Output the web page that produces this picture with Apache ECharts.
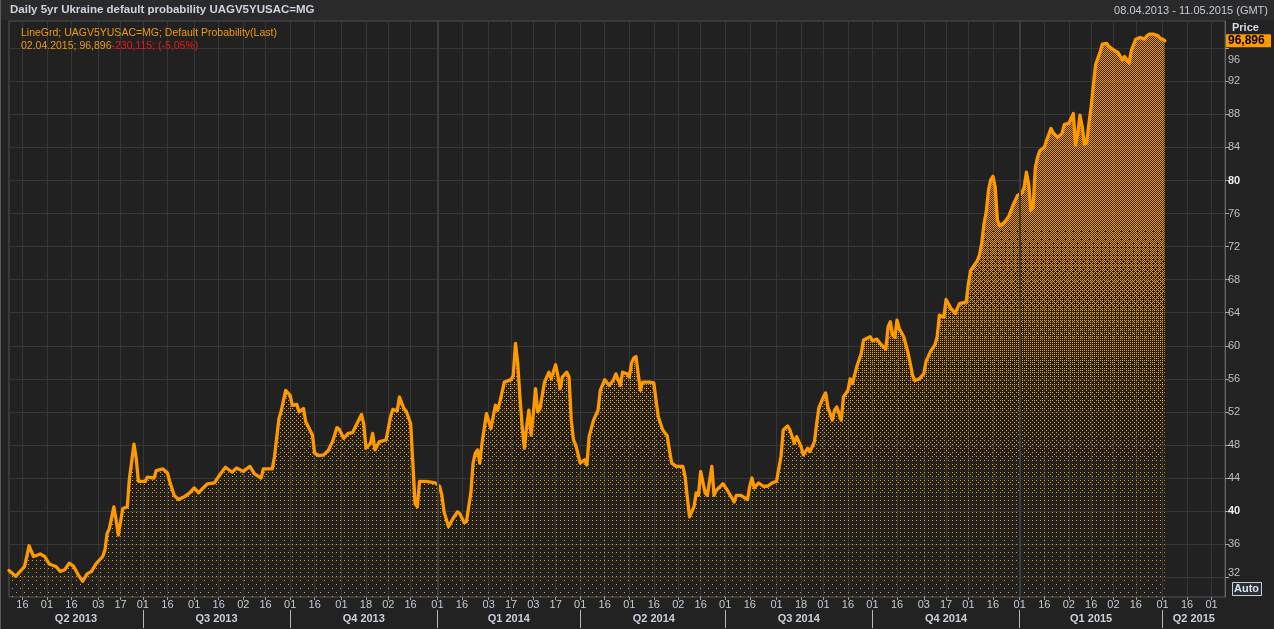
<!DOCTYPE html>
<html><head><meta charset="utf-8">
<script src="https://cdn.jsdelivr.net/npm/echarts@6/dist/echarts.min.js"></script>
<style>html,body{margin:0;padding:0;background:#222;}#c{width:1274px;height:629px;}</style>
</head><body><div id="c"></div>
<script>
// ---- data ----
const axisStart = '2013-04-08';
const axisEnd = '2015-05-11';
const yTicks = [32, 36, 40, 44, 48, 52, 56, 60, 64, 68, 72, 76, 80, 84, 88, 92, 96];
const titleText = 'Daily 5yr Ukraine default probability UAGV5YUSAC=MG';
const rangeText = '08.04.2013 - 11.05.2015 (GMT)';
const legendLine1 = 'LineGrd; UAGV5YUSAC=MG; Default Probability(Last)';
const legendLast = '02.04.2015; 96,896';
const legendChange = '-230,115; (-5,05%)';
const lastPriceText = '96,896';
const lastPrice = 96.896;
const probability = [
['2013-04-08',32.8],['2013-04-11',32.1],['2013-04-17',33.3],['2013-04-19',35.8],['2013-04-23',34.5],['2013-04-26',34.8],
['2013-04-30',34.5],['2013-05-02',33.6],['2013-05-07',33.3],['2013-05-09',32.7],['2013-05-13',32.9],['2013-05-15',33.7],
['2013-05-17',33.3],['2013-05-21',32.3],['2013-05-23',31.5],['2013-05-27',32.4],['2013-05-29',32.7],['2013-05-31',33.6],
['2013-06-05',34.5],['2013-06-06',35.3],['2013-06-07',37.3],['2013-06-10',37.9],['2013-06-12',40.5],['2013-06-13',38.9],
['2013-06-14',37.1],['2013-06-18',40.3],['2013-06-20',40.5],['2013-06-21',44.0],['2013-06-24',46.0],['2013-06-25',48.1],
['2013-06-26',46.4],['2013-06-27',43.6],['2013-07-02',43.6],['2013-07-03',44.1],['2013-07-08',44.0],['2013-07-09',44.9],
['2013-07-12',45.1],['2013-07-16',44.6],['2013-07-17',43.6],['2013-07-19',41.9],['2013-07-23',41.4],['2013-07-26',41.8],
['2013-07-30',42.2],['2013-08-01',42.8],['2013-08-05',42.2],['2013-08-07',42.8],['2013-08-09',43.3],['2013-08-14',43.4],
['2013-08-16',44.2],['2013-08-21',45.3],['2013-08-26',44.7],['2013-08-28',45.2],['2013-09-02',44.8],['2013-09-05',45.4],
['2013-09-09',44.5],['2013-09-12',44.0],['2013-09-13',45.1],['2013-09-19',45.1],['2013-09-20',46.6],['2013-09-24',51.2],
['2013-09-25',52.1],['2013-09-27',54.6],['2013-10-01',54.0],['2013-10-02',52.8],['2013-10-04',52.9],['2013-10-07',52.0],
['2013-10-09',52.4],['2013-10-10',50.8],['2013-10-15',49.2],['2013-10-16',47.0],['2013-10-18',46.7],['2013-10-22',46.8],
['2013-10-24',47.3],['2013-10-28',48.4],['2013-10-30',50.1],['2013-10-31',49.9],['2013-11-04',48.8],['2013-11-06',49.4],
['2013-11-08',49.5],['2013-11-12',50.6],['2013-11-14',51.7],['2013-11-15',50.5],['2013-11-18',47.6],['2013-11-20',48.2],
['2013-11-21',49.4],['2013-11-22',47.4],['2013-11-26',48.4],['2013-11-29',48.6],['2013-12-03',51.4],['2013-12-04',52.3],
['2013-12-06',52.1],['2013-12-09',53.8],['2013-12-11',52.4],['2013-12-12',52.1],['2013-12-16',50.6],['2013-12-17',45.8],
['2013-12-18',40.9],['2013-12-19',40.5],['2013-12-20',43.6],['2013-12-25',43.6],['2013-12-31',43.4],['2014-01-02',43.0],
['2014-01-03',41.9],['2014-01-06',39.9],['2014-01-08',38.1],['2014-01-10',39.1],['2014-01-14',39.9],['2014-01-15',39.7],
['2014-01-17',38.6],['2014-01-20',38.7],['2014-01-22',42.2],['2014-01-23',45.8],['2014-01-24',47.0],['2014-01-27',47.4],
['2014-01-28',45.8],['2014-01-29',48.2],['2014-01-31',51.8],['2014-02-04',50.0],['2014-02-06',52.8],['2014-02-07',52.2],
['2014-02-10',53.2],['2014-02-12',55.6],['2014-02-17',55.9],['2014-02-18',56.4],['2014-02-19',60.3],['2014-02-20',57.9],
['2014-02-21',53.8],['2014-02-24',50.2],['2014-02-25',47.6],['2014-02-26',50.2],['2014-02-27',52.2],['2014-02-28',49.2],
['2014-03-03',51.8],['2014-03-04',54.8],['2014-03-05',52.0],['2014-03-06',52.4],['2014-03-10',55.6],['2014-03-12',56.8],
['2014-03-13',56.0],['2014-03-17',57.7],['2014-03-18',56.4],['2014-03-19',54.8],['2014-03-20',56.2],['2014-03-24',56.8],
['2014-03-25',56.2],['2014-03-26',51.0],['2014-03-27',48.6],['2014-03-28',48.0],['2014-04-01',45.8],['2014-04-03',46.2],
['2014-04-04',45.6],['2014-04-07',49.0],['2014-04-09',51.0],['2014-04-11',52.2],['2014-04-14',54.6],['2014-04-16',55.9],
['2014-04-18',55.2],['2014-04-22',55.9],['2014-04-23',56.6],['2014-04-25',55.2],['2014-04-28',56.8],['2014-04-30',56.6],
['2014-05-01',56.2],['2014-05-02',57.9],['2014-05-05',58.5],['2014-05-06',58.7],['2014-05-07',56.6],['2014-05-08',54.6],
['2014-05-09',55.6],['2014-05-14',55.6],['2014-05-16',55.5],['2014-05-19',53.4],['2014-05-20',51.4],['2014-05-22',49.8],
['2014-05-26',49.1],['2014-05-27',47.4],['2014-05-28',45.8],['2014-05-30',45.4],['2014-06-04',45.4],['2014-06-05',44.2],
['2014-06-06',41.7],['2014-06-09',39.3],['2014-06-11',40.5],['2014-06-12',42.2],['2014-06-13',41.9],['2014-06-16',44.8],
['2014-06-18',42.2],['2014-06-19',41.9],['2014-06-23',45.4],['2014-06-24',41.9],['2014-06-25',42.5],['2014-06-30',43.3],
['2014-07-02',42.5],['2014-07-07',41.1],['2014-07-08',41.9],['2014-07-10',41.9],['2014-07-15',41.4],['2014-07-16',43.0],
['2014-07-17',44.0],['2014-07-18',42.8],['2014-07-22',43.4],['2014-07-24',43.0],['2014-07-28',43.0],['2014-07-30',43.4],
['2014-08-01',43.6],['2014-08-05',46.6],['2014-08-06',49.8],['2014-08-08',50.3],['2014-08-11',49.8],['2014-08-13',48.2],
['2014-08-14',49.0],['2014-08-18',47.8],['2014-08-19',46.8],['2014-08-21',47.6],['2014-08-22',47.2],['2014-08-26',48.4],
['2014-08-27',50.6],['2014-08-28',52.5],['2014-09-01',53.8],['2014-09-02',54.3],['2014-09-03',52.6],['2014-09-05',51.0],
['2014-09-08',52.2],['2014-09-09',52.6],['2014-09-11',51.0],['2014-09-12',53.8],['2014-09-16',54.6],['2014-09-17',56.0],
['2014-09-18',55.4],['2014-09-22',57.5],['2014-09-24',59.1],['2014-09-25',60.7],['2014-09-30',61.1],['2014-10-01',60.6],
['2014-10-03',60.8],['2014-10-07',60.1],['2014-10-09',59.6],['2014-10-10',62.3],['2014-10-13',62.9],['2014-10-14',61.3],
['2014-10-15',61.0],['2014-10-16',63.1],['2014-10-17',62.1],['2014-10-21',61.1],['2014-10-23',59.1],['2014-10-27',56.4],
['2014-10-28',55.8],['2014-10-30',56.0],['2014-11-03',56.6],['2014-11-04',58.1],['2014-11-06',59.3],['2014-11-10',60.1],
['2014-11-11',61.1],['2014-11-12',63.7],['2014-11-14',63.5],['2014-11-17',65.6],['2014-11-19',64.6],['2014-11-21',63.9],
['2014-11-25',65.1],['2014-11-28',65.3],['2014-12-01',67.5],['2014-12-02',69.1],['2014-12-04',69.9],['2014-12-05',70.3],
['2014-12-08',71.0],['2014-12-09',72.5],['2014-12-10',74.8],['2014-12-11',76.2],['2014-12-12',78.8],['2014-12-15',80.1],
['2014-12-16',80.5],['2014-12-17',79.2],['2014-12-18',75.2],['2014-12-19',74.5],['2014-12-23',74.9],['2014-12-25',75.6],
['2014-12-29',77.0],['2014-12-31',78.2],['2015-01-02',78.5],['2015-01-05',79.2],['2015-01-06',81.0],['2015-01-07',79.6],
['2015-01-08',76.4],['2015-01-09',76.8],['2015-01-12',81.6],['2015-01-13',82.8],['2015-01-14',83.6],['2015-01-16',84.0],
['2015-01-19',84.8],['2015-01-21',86.3],['2015-01-22',85.8],['2015-01-26',85.2],['2015-01-28',85.7],['2015-01-29',86.8],
['2015-02-02',86.9],['2015-02-04',88.1],['2015-02-05',84.3],['2015-02-06',85.7],['2015-02-09',87.9],['2015-02-10',86.5],
['2015-02-11',84.4],['2015-02-12',84.5],['2015-02-13',86.9],['2015-02-16',88.9],['2015-02-17',91.5],['2015-02-18',94.0],
['2015-02-19',94.8],['2015-02-20',95.5],['2015-02-23',96.5],['2015-02-25',96.6],['2015-02-26',96.2],['2015-03-02',95.8],
['2015-03-04',95.5],['2015-03-06',94.6],['2015-03-09',95.0],['2015-03-11',94.2],['2015-03-12',95.7],['2015-03-16',97.1],
['2015-03-18',97.3],['2015-03-20',97.1],['2015-03-23',97.5],['2015-03-24',97.7],['2015-03-26',97.7],['2015-03-30',97.5],
['2015-03-31',97.2],['2015-04-01',97.1],['2015-04-02',96.896]
];

// ---- business-day category axis ----
function businessDays(s, e) {
  const out = [];
  let t = Date.parse(s + 'T00:00:00Z');
  const end = Date.parse(e + 'T00:00:00Z');
  while (t <= end) {
    const d = new Date(t);
    const wd = d.getUTCDay();
    if (wd !== 0 && wd !== 6) out.push(d.toISOString().slice(0, 10));
    t += 86400000;
  }
  return out;
}
const cats = businessDays(axisStart, axisEnd);
const dayLabelIdx = new Set();
const quarterStartIdx = new Set();
const bounds = [0];
for (let i = 1; i < cats.length; i++) {
  const m = cats[i].slice(5, 7), pm = cats[i - 1].slice(5, 7);
  const d = +cats[i].slice(8), pd = +cats[i - 1].slice(8);
  if (m !== pm || (d >= 16 && pd < 16)) dayLabelIdx.add(i);
  if (m !== pm && ['01', '04', '07', '10'].includes(m)) { quarterStartIdx.add(i); bounds.push(i); }
}
bounds.push(cats.length - 1);
const quarterMid = new Map();
for (let k = 0; k < bounds.length - 1; k++) {
  const a = bounds[k], b = bounds[k + 1];
  const mid = Math.round((a + b) / 2);
  const mm = +cats[a].slice(5, 7), yy = cats[a].slice(0, 4);
  quarterMid.set(mid, 'Q' + (Math.floor((mm - 1) / 3) + 1) + ' ' + yy);
}

// ---- dotted fill pattern: ordered dither, density grows toward the top ----
function makeDots(W, H) {
  const c = document.createElement('canvas');
  c.width = W; c.height = H;
  const g = c.getContext('2d');
  const img = g.createImageData(W, H);
  const B = [
    [0, 32, 8, 40, 2, 34, 10, 42], [48, 16, 56, 24, 50, 18, 58, 26],
    [12, 44, 4, 36, 14, 46, 6, 38], [60, 28, 52, 20, 62, 30, 54, 22],
    [3, 35, 11, 43, 1, 33, 9, 41], [51, 19, 59, 27, 49, 17, 57, 25],
    [15, 47, 7, 39, 13, 45, 5, 37], [63, 31, 55, 23, 61, 29, 53, 21]];
  const stops = [[0, 0.5], [220, 0.5], [300, 0.34], [390, 0.15], [470, 0.07], [597, 0.025], [629, 0.025]];
  function dens(y) {
    for (let k = 0; k < stops.length - 1; k++) {
      const [y0, d0] = stops[k], [y1, d1] = stops[k + 1];
      if (y <= y1) return d0 + (d1 - d0) * (y - y0) / (y1 - y0);
    }
    return 0.025;
  }
  for (let y = 0; y < H; y++) {
    const th = dens(y) * 64;
    for (let x = 0; x < W; x++) {
      if (B[y & 7][x & 7] < th) {
        const p = (y * W + x) * 4;
        img.data[p] = 255; img.data[p + 1] = 153; img.data[p + 2] = 0; img.data[p + 3] = 255;
      }
    }
  }
  g.putImageData(img, 0, 0);
  return c;
}
const dots = makeDots(1274, 629);

const FONT = '"Liberation Sans", Arial, sans-serif';
const chart = echarts.init(document.getElementById('c'), null, { renderer: 'canvas' });
const option = {
  animation: false,
  backgroundColor: '#222222',
  grid: { left: 9, right: 49, top: 21, bottom: 32, show: true, backgroundColor: '#212121', borderColor: '#555555', borderWidth: 1 },
  xAxis: [{
    type: 'category', data: cats, boundaryGap: false, position: 'bottom',
    axisLine: { show: false },
    axisTick: { show: true, interval: (i) => dayLabelIdx.has(i), length: 3, lineStyle: { color: '#9aa0a8' } },
    axisLabel: { interval: (i) => dayLabelIdx.has(i), formatter: (v) => v.slice(8), color: '#c4ccd6', fontSize: 11, fontFamily: FONT, margin: 2 },
    splitLine: { show: true, interval: (i) => dayLabelIdx.has(i), lineStyle: { color: '#363636', width: 1 } }
  }, {
    type: 'category', data: cats, boundaryGap: false, position: 'bottom', offset: 13,
    axisLine: { show: false },
    axisTick: { show: true, interval: (i) => quarterStartIdx.has(i), length: 18, lineStyle: { color: '#b0b6be' } },
    axisLabel: { interval: (i) => quarterMid.has(i), formatter: (v) => quarterMid.get(cats.indexOf(v)) || '', color: '#c8d0da', fontSize: 11, fontWeight: 'bold', fontFamily: FONT, margin: 3 },
    splitLine: { show: false }
  }],
  yAxis: {
    type: 'value', position: 'right', min: 29.6, max: 99.3, scale: true,
    axisLine: { show: true, lineStyle: { color: '#666666' } },
    axisTick: { show: true, customValues: yTicks, length: 4, lineStyle: { color: '#a0a6ae' } },
    axisLabel: {
      customValues: yTicks, margin: 3, fontFamily: FONT,
      formatter: (v) => v % 40 === 0 ? '{b|' + v + '}' : (v === 96 ? '{d|' + v + '}' : (v === 32 ? '{e|' + v + '}' : '{n|' + v + '}')),
      rich: {
        n: { color: '#b8c0ca', fontSize: 11, fontFamily: FONT },
        b: { color: '#e6ecf2', fontSize: 11, fontWeight: 'bold', fontFamily: FONT },
        d: { color: '#b8c0ca', fontSize: 11, fontFamily: FONT, padding: [24, 0, 0, 0] },
        e: { color: '#b8c0ca', fontSize: 11, fontFamily: FONT, padding: [0, 0, 8, 0] }
      }
    },
    splitLine: { show: true, lineStyle: { color: '#363636', width: 1 } }
  },
  series: [{
    type: 'line', z: 1, data: [], silent: true,
    markLine: {
      silent: true, symbol: 'none', label: { show: false },
      lineStyle: { color: '#3d3d3d', width: 2, type: 'solid' },
      data: [{ xAxis: '2014-01-01' }, { xAxis: '2015-01-01' }]
    }
  }, {
    type: 'line', z: 3, name: 'Default Probability', data: probability,
    showSymbol: false, symbol: 'none', smooth: false,
    lineStyle: { color: '#ff9900', width: 3.3, join: 'round', cap: 'round' },
    areaStyle: { color: { image: dots, repeat: 'no-repeat' }, opacity: 1 }
  }]
};
chart.setOption(option);

const priceY = chart.convertToPixel({ yAxisIndex: 0 }, lastPrice);
chart.setOption({
  graphic: [
    { type: 'rect', left: 0, top: 0, z: 10, shape: { width: 1274, height: 20 }, style: { fill: '#2a2a2a' }, silent: true },
    { type: 'rect', left: 0, top: 0, z: 11, shape: { width: 1, height: 629 }, style: { fill: '#5a5a5a' }, silent: true },
    { type: 'text', left: 10, top: 4, z: 12, style: { text: titleText, fill: '#ccd4de', font: 'bold 11.5px ' + FONT } },
    { type: 'text', right: 6, top: 5, z: 12, style: { text: rangeText, fill: '#c4ccd6', font: '11px ' + FONT } },
    { type: 'text', left: 21, top: 28, z: 12, style: { text: legendLine1, fill: '#f09a10', font: '10.5px ' + FONT } },
    { type: 'text', left: 21, top: 41, z: 12, style: {
      text: '{o|' + legendLast + '}{r|' + legendChange + '}', font: '10.5px ' + FONT,
      rich: { o: { fill: '#f09a10', font: '10.5px ' + FONT }, r: { fill: '#f01818', font: '10.5px ' + FONT } } } },
    { type: 'text', left: 1232, top: 22, z: 12, style: { text: 'Price', fill: '#d4dce6', font: 'bold 11px ' + FONT } },
    { type: 'rect', left: 1226, top: priceY - 6.5, z: 12, shape: { width: 45, height: 13 }, style: { fill: '#ff9900' } },
    { type: 'text', left: 1228, top: priceY - 6, z: 13, style: { text: lastPriceText, fill: '#000000', font: 'bold 12px ' + FONT } },
    { type: 'rect', left: 1232, top: 582, z: 12, shape: { width: 29, height: 13 }, style: { fill: '#2a2e34', stroke: '#c8d0da', lineWidth: 1 } },
    { type: 'text', left: 1234, top: 583, z: 13, style: { text: 'Auto', fill: '#d8e2ee', font: 'bold 11px ' + FONT } }
  ]
});
</script>
</body></html>
